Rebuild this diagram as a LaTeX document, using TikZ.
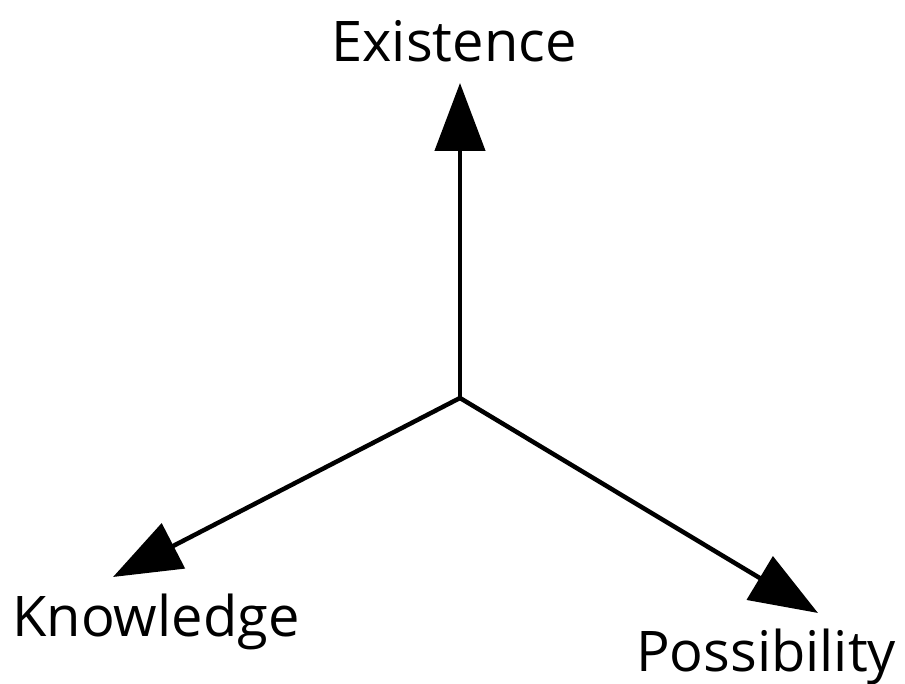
\documentclass[tikz,border=0pt]{standalone}
\usepackage{fontspec}
\setmainfont{Open Sans}
\usetikzlibrary{arrows.meta}
\begin{document}
\begin{tikzpicture}[x=1pt,y=1pt,
  every node/.style={font=\fontsize{56}{62}\selectfont, inner sep=0pt},
  axis/.style={line width=4.5pt, -{Triangle[length=68pt,width=50pt]}}]
\useasboundingbox (0,0) rectangle (905,684);

% Origin and axis tips
\coordinate (o) at (460,286);
\coordinate (extip) at (460,601);
\coordinate (kntip) at (113,107);
\coordinate (potip) at (818,71);

% Labels
\node[anchor=base] (exist) at (454,622) {Existence};
\node[anchor=base] (know) at (156,47) {Knowledge};
\node[anchor=base] (poss) at (766,12) {Possibility};

% Axes
\draw[axis] (o) -- (extip);
\draw[axis] (o) -- (kntip);
\draw[axis] (o) -- (potip);
\end{tikzpicture}
\end{document}
